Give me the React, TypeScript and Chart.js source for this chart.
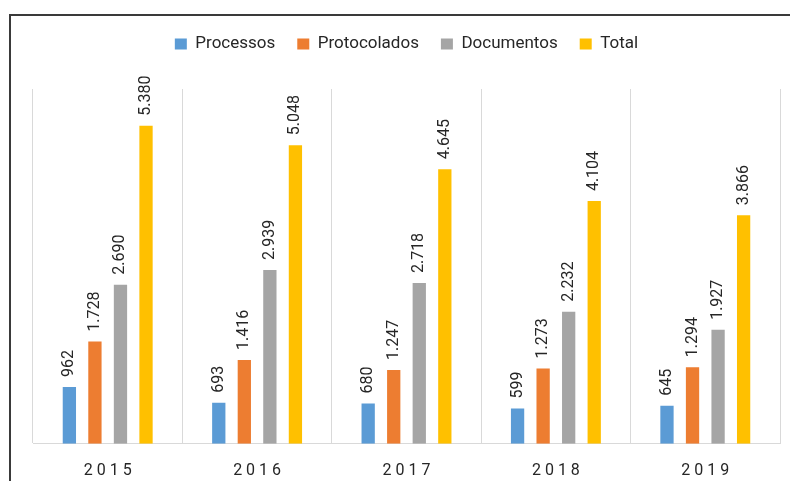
import React, { useEffect, useRef } from "react";
import { Chart, registerables } from "chart.js";

Chart.register(...registerables);

const categories = ["2015", "2016", "2017", "2018", "2019"];
const processos = [962, 693, 680, 599, 645];
const protocolados = [1728, 1416, 1247, 1273, 1294];
const documentos = [2690, 2939, 2718, 2232, 1927];
const total = [5380, 5048, 4645, 4104, 3866];

const seriesLabels = ["Processos", "Protocolados", "Documentos", "Total"];
const seriesColors = ["#5B9BD5", "#ED7D31", "#A5A5A5", "#FFC000"];

const FONT = "Roboto";
const TEXT = "#262626";

const fmt = (v: number) => String(v).replace(/\B(?=(\d{3})+(?!\d))/g, ".");

const dataLabels = {
  id: "dataLabels",
  afterDatasetsDraw(chart: any) {
    const ctx = chart.ctx;
    ctx.save();
    ctx.font = `16px ${FONT}`;
    ctx.fillStyle = TEXT;
    ctx.textAlign = "left";
    ctx.textBaseline = "middle";
    chart.data.datasets.forEach((ds: any, di: number) => {
      const meta = chart.getDatasetMeta(di);
      meta.data.forEach((el: any, i: number) => {
        ctx.save();
        ctx.translate(el.x, el.y - 10);
        ctx.rotate(-Math.PI / 2);
        ctx.fillText(fmt(ds.data[i]), 0, 0);
        ctx.restore();
      });
    });
    ctx.restore();
  },
};

const frame = {
  id: "frame",
  afterDraw(chart: any) {
    const ctx = chart.ctx;
    ctx.save();
    ctx.fillStyle = "#3a3a3a";
    ctx.fillRect(9, 14, chart.width - 9, 2);
    ctx.fillRect(9, 14, 2, chart.height - 14);
    ctx.restore();
  },
};

const legendMargin = {
  id: "legendMargin",
  afterInit(chart: any) {
    const legend = chart.legend;
    if (!legend) return;
    const orig = legend.fit;
    legend.fit = function () {
      orig.call(this);
      this.height += 26.5;
    };
  },
};

export default function App() {
  const ref = useRef<HTMLCanvasElement | null>(null);
  useEffect(() => {
    if (!ref.current) return;
    const chart = new Chart(ref.current, {
      type: "bar",
      data: {
        labels: categories,
        datasets: [processos, protocolados, documentos, total].map((d, i) => ({
          label: seriesLabels[i],
          data: d,
          backgroundColor: seriesColors[i],
          borderWidth: 0,
          categoryPercentage: 0.684,
          barPercentage: 0.52,
        })),
      },
      options: {
        animation: false,
        responsive: true,
        maintainAspectRatio: false,
        layout: { padding: { top: 13.5, left: 33, right: 10, bottom: -18 } },
        plugins: {
          tooltip: { enabled: false },
          legend: {
            position: "top",
            labels: {
              boxWidth: 12,
              boxHeight: 11,
              padding: 22,
              color: TEXT,
              font: { family: FONT, size: 17 },
            },
          },
        },
        scales: {
          x: {
            grid: { display: true, offset: true, color: "#D9D9D9", lineWidth: 1, drawTicks: false },
            border: { display: true, color: "#D9D9D9", width: 1 },
            ticks: {
              color: TEXT,
              padding: 18,
              maxRotation: 0,
              font: { family: FONT, size: 16 },
              callback: (_v: any, i: number) => categories[i].split("").join(" "),
            },
          },
          y: {
            display: false,
            min: 0,
            max: 6000,
          },
        },
      },
      plugins: [dataLabels, frame, legendMargin],
    });
    return () => chart.destroy();
  }, []);
  return (
    <div style={{ position: "absolute", left: 0, top: 0, width: 790, height: 481, background: "#fff" }}>
      <canvas ref={ref} />
    </div>
  );
}
